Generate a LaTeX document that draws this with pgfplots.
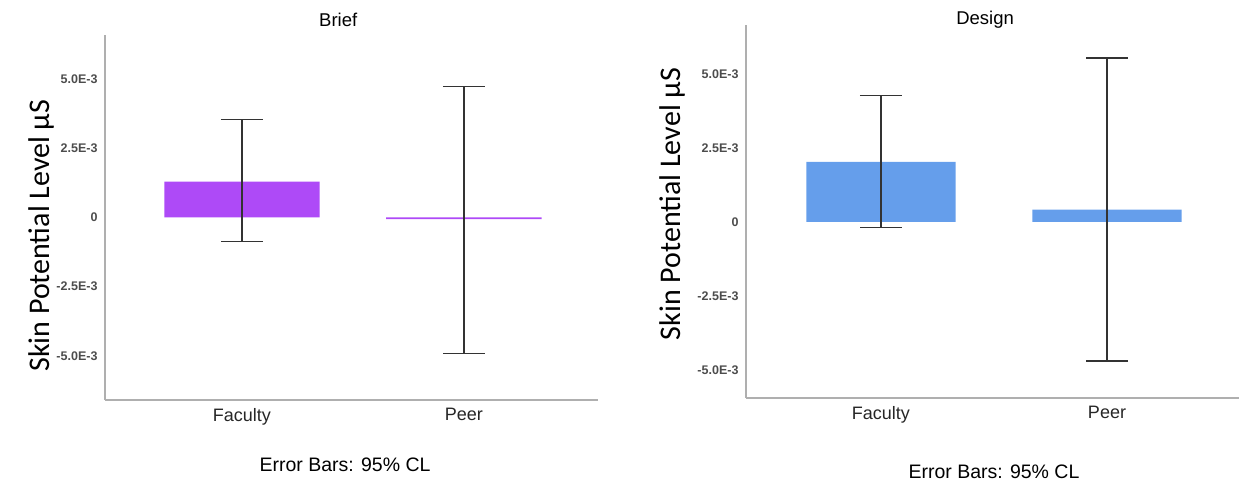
\documentclass[border=0pt]{standalone}
\usepackage{fontspec}
\setmainfont{Liberation Sans}
\newfontfamily\carlito{Carlito}
\usepackage{pgfplots}
\pgfplotsset{compat=1.18}
\definecolor{briefpurple}{RGB}{174,74,247}
\definecolor{designblue}{RGB}{101,158,235}
\definecolor{axisgray}{RGB}{175,175,175}
\pgfplotsset{panel/.style={
  scale only axis, width=493pt, anchor=south west, clip=false,
  axis x line=bottom, axis y line=left,
  axis line style={axisgray, line width=1.3pt, -},
  xtick={0,1}, xticklabels={Faculty,Peer},
  major tick length=0pt, scaled y ticks=false,
  ytick={-0.005,-0.0025,0,0.0025,0.005},
  yticklabels={-5.0E-3,-2.5E-3,0,2.5E-3,5.0E-3},
  yticklabel style={font=\fontsize{12.5}{13}\selectfont\bfseries, text=black!70, xshift=-4pt},
  xticklabel style={font=\fontsize{18}{19}\selectfont, text=black!85, yshift=-5pt},
  ylabel style={font=\carlito\fontsize{30}{32}\selectfont},
  error bars/error bar style={line width=1.3pt, black!80},
  error bars/error mark options={line width=1.3pt, black!80, mark size=21pt, rotate=90},
}}
\begin{document}
\begin{tikzpicture}
\useasboundingbox (0,0) rectangle (1239pt,483pt);
% Brief
\begin{axis}[panel, at={(105pt,83pt)}, height=365pt,
  xmin=-0.617, xmax=1.604, ymin=-0.0066, ymax=0.0066,
  ylabel={Skin Potential Level µS},
  ylabel style={at={(axis description cs:-0.128,0.45)}, anchor=center}]
\addplot[ybar, bar width=0.7, fill=briefpurple, draw=none,
  error bars/.cd, y dir=both, y explicit]
  coordinates {(0,0.0013) += (0,0.00225) -= (0,0.00217)
               (1,-0.00006) += (0,0.00481) -= (0,0.00487)};
\node[font=\fontsize{18.5}{19}\selectfont] at (axis description cs:0.473,1.041) {Brief};
\node[font=\fontsize{19.5}{20}\selectfont] at (axis description cs:0.487,-0.178) {Error Bars: 95\% CL};
\end{axis}
% Design
\begin{axis}[panel, at={(746pt,85pt)}, height=373pt,
  xmin=-0.597, xmax=1.584, ymin=-0.00595, ymax=0.00665,
  ylabel={Skin Potential Level µS},
  ylabel style={at={(axis description cs:-0.15,0.52)}, anchor=center}]
\addplot[ybar, bar width=0.66, fill=designblue, draw=none,
  error bars/.cd, y dir=both, y explicit]
  coordinates {(0,0.00203) += (0,0.00223) -= (0,0.00223)
               (1,0.00041) += (0,0.00513) -= (0,0.00511)};
\node[font=\fontsize{18.5}{19}\selectfont] at (axis description cs:0.485,1.013) {Design};
\node[font=\fontsize{19.5}{20}\selectfont] at (axis description cs:0.503,-0.198) {Error Bars: 95\% CL};
\end{axis}
\end{tikzpicture}
\end{document}
